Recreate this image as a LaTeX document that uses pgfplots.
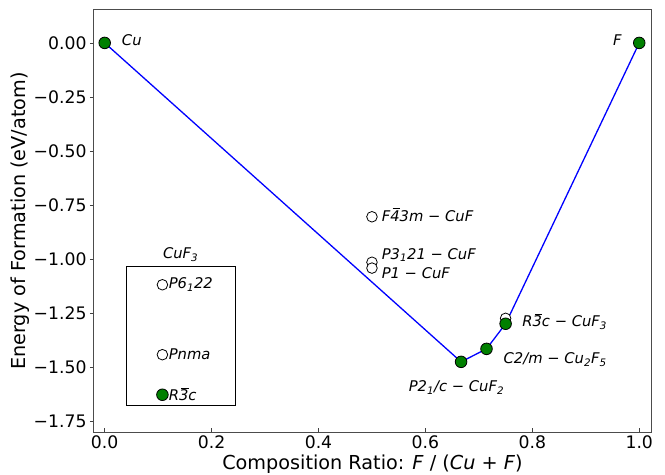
\documentclass[border=0pt]{standalone}
\usepackage{pgfplots}
\pgfplotsset{compat=1.18}
\usepackage{fontspec}
\setmainfont{DejaVu Sans}
\definecolor{mplgreen}{RGB}{0,128,0}
\newcommand{\ob}[1]{\leavevmode\rlap{\kern0.16em\rule[0.8em]{0.5em}{0.06em}}#1}
\newcommand{\mi}{\ {\upshape −}\ }
\begin{document}
\begin{tikzpicture}
\begin{axis}[
  scale only axis,
  width=557bp, height=422bp,
  xmin=-0.02, xmax=1.022, ymin=-1.797, ymax=0.152,
  xtick={0,0.2,0.4,0.6,0.8,1.0},
  xticklabels={0.0,0.2,0.4,0.6,0.8,1.0},
  ytick={0,-0.25,-0.5,-0.75,-1,-1.25,-1.5,-1.75},
  yticklabels={0.00,−0.25,−0.50,−0.75,−1.00,−1.25,−1.50,−1.75},
  xtick pos=bottom, ytick pos=left,
  xtick align=inside, ytick align=outside,
  major tick length=4bp,
  tick style={black!75, line width=0.8bp},
  axis line style={black!70, line width=1bp},
  ticklabel style={font=\fontsize{17.3}{20}\selectfont},
  label style={font=\fontsize{19.3}{22}\selectfont},
  xlabel={Composition Ratio: \textit{F} / (\textit{Cu} + \textit{F})},
  ylabel={Energy of Formation (eV/atom)},
  xlabel style={yshift=1bp},
  ylabel style={yshift=-3bp},
  clip=false,
]
% open circles (metastable)
\addplot[only marks, mark=*, mark size=5.3bp, mark options={fill=white, draw=black, line width=0.8bp}]
  coordinates {(0.5,-0.803) (0.5,-1.013) (0.5,-1.040) (0.75,-1.272)};
% stable (green)
\addplot[only marks, mark=*, mark size=5.8bp, mark options={fill=mplgreen, draw=black, line width=0.8bp}]
  coordinates {(0,0) (1,0) (0.6667,-1.473) (0.7143,-1.413) (0.75,-1.297)};
% convex hull
\addplot[blue, line width=1.3bp, mark=none]
  coordinates {(0,0) (0.6667,-1.473) (0.7143,-1.413) (0.75,-1.297) (1,0)};
% inset legend markers
\addplot[only marks, mark=*, mark size=5.3bp, mark options={fill=white, draw=black, line width=0.8bp}]
  coordinates {(0.108,-1.117) (0.108,-1.440)};
\addplot[only marks, mark=*, mark size=5.8bp, mark options={fill=mplgreen, draw=black, line width=0.8bp}]
  coordinates {(0.108,-1.625)};
\draw[black, line width=0.8bp] (axis cs:0.041,-1.034) rectangle (axis cs:0.245,-1.676);
\begin{scope}[every node/.style={font=\fontsize{14.8}{17}\selectfont\itshape, inner sep=0pt}]
\node[anchor=west] at (axis cs:0.032,0.012) {Cu};
\node at (axis cs:0.959,0.012) {F};
\node[anchor=west] at (axis cs:0.518,-0.794) {F\ob{4}3m\mi CuF};
\node[anchor=west] at (axis cs:0.518,-0.979) {P3\textsubscript{1}21\mi CuF};
\node[anchor=west] at (axis cs:0.518,-1.062) {P1\mi CuF};
\node at (axis cs:0.658,-1.593) {P2\textsubscript{1}/c\mi CuF\textsubscript{2}};
\node[anchor=west] at (axis cs:0.746,-1.463) {C2/m\mi Cu\textsubscript{2}F\textsubscript{5}};
\node[anchor=west] at (axis cs:0.781,-1.288) {R\ob{3}c\mi CuF\textsubscript{3}};
\node at (axis cs:0.142,-0.979) {CuF\textsubscript{3}};
\node[anchor=west] at (axis cs:0.1195,-1.117) {P6\textsubscript{1}22};
\node[anchor=west] at (axis cs:0.1195,-1.440) {Pnma};
\node[anchor=west] at (axis cs:0.1195,-1.625) {R\ob{3}c};
\end{scope}
\end{axis}
\pgfresetboundingbox
\useasboundingbox ([xshift=-94bp,yshift=-43bp]current axis.south west) rectangle ([xshift=14bp,yshift=10bp]current axis.north east);
\end{tikzpicture}
\end{document}
